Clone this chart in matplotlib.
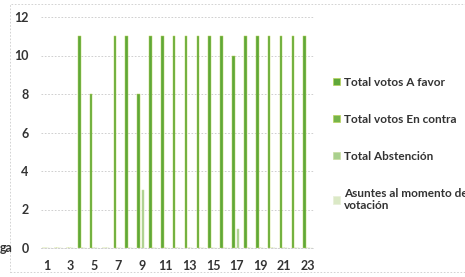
import matplotlib
matplotlib.use("Agg")
import matplotlib.pyplot as plt
import matplotlib.patches as mpatches
import numpy as np

categories = list(range(1, 24))
a_favor    = [0, 0, 0, 11, 8, 0, 11, 11, 8, 11, 11, 11, 11, 11, 11, 11, 10, 11, 11, 11, 11, 11, 11]
en_contra  = [0] * 23
abstencion = [0, 0, 0, 0, 0, 0, 0, 0, 3, 0, 0, 0, 0, 0, 0, 0, 1, 0, 0, 0, 0, 0, 0]
asuntes    = [0] * 23
series_names = ["Total votos A favor", "Total votos En contra", "Total Abstención",
                "Asuntes al momento de la\nvotación"]
xtick_labels = [str(v) for v in range(1, 24, 2)]

plt.rcParams['font.family'] = ['Lato', 'DejaVu Sans']

fig = plt.figure(figsize=(4.65, 2.77), dpi=100)
ax = fig.add_axes([41/465, 1-248/277, (314-41)/465, (248-17)/277])

x = np.array(categories, dtype=float)
colors = ["#5fa83a", "#76b44a", "#a9d08e", "#dbe9c6"]
edges = ["#b9d25a", "#b9d25a", "#c8dca0", "#e8efd8"]
offsets = [-0.28, -0.09, 0.09, 0.28]
data = [a_favor, en_contra, abstencion, asuntes]
for vals, c, e, off in zip(data, colors, edges, offsets):
    ax.bar(x + off, vals, width=0.22, color=c, edgecolor=e, linewidth=0.35, zorder=3)

ax.set_xlim(0.5, 23.5)
ax.set_ylim(0, 12)
ax.set_yticks(range(0, 13, 2))
ax.set_xticks(range(1, 24, 2))
ax.set_xticklabels(xtick_labels)
ax.tick_params(axis='both', length=0, labelsize=9, colors="#333333")
for lbl in ax.get_xticklabels() + ax.get_yticklabels():
    lbl.set_fontweight('bold')
ax.tick_params(axis='y', pad=9)
ax.tick_params(axis='x', pad=9)
ax.grid(axis='y', color="#c8c8c8", linestyle=(0, (2, 2)), linewidth=0.6, zorder=0)
for s in ['left', 'right', 'top']:
    ax.spines[s].set_visible(False)
ax.spines['bottom'].set_color("#c8c8c8")
ax.spines['bottom'].set_linestyle((0, (2, 2)))
ax.spines['bottom'].set_linewidth(0.6)

handles = [mpatches.Patch(facecolor=c, edgecolor=e, linewidth=0.5) for c, e in zip(colors, edges)]
leg = fig.legend(handles, series_names, loc='upper left', bbox_to_anchor=(328/465, 1-72/277),
                 frameon=False, fontsize=8.5, handlelength=0.6, handleheight=0.6,
                 handletextpad=0.35, labelspacing=2.2, borderaxespad=0)
for t in leg.get_texts():
    t.set_fontweight('bold')
    t.set_color("#333333")

fig.text(0.0, 1-248/277, "ga", fontsize=9, fontweight='bold', color="#333333", va='center')

frame = mpatches.Rectangle((10/465, 1-272/277), 1.0, (272-4)/277, transform=fig.transFigure,
                           fill=False, edgecolor="#cccccc", linestyle=(0, (2, 2)), linewidth=0.6)
fig.add_artist(frame)

fig.savefig("out.png", dpi=100)
